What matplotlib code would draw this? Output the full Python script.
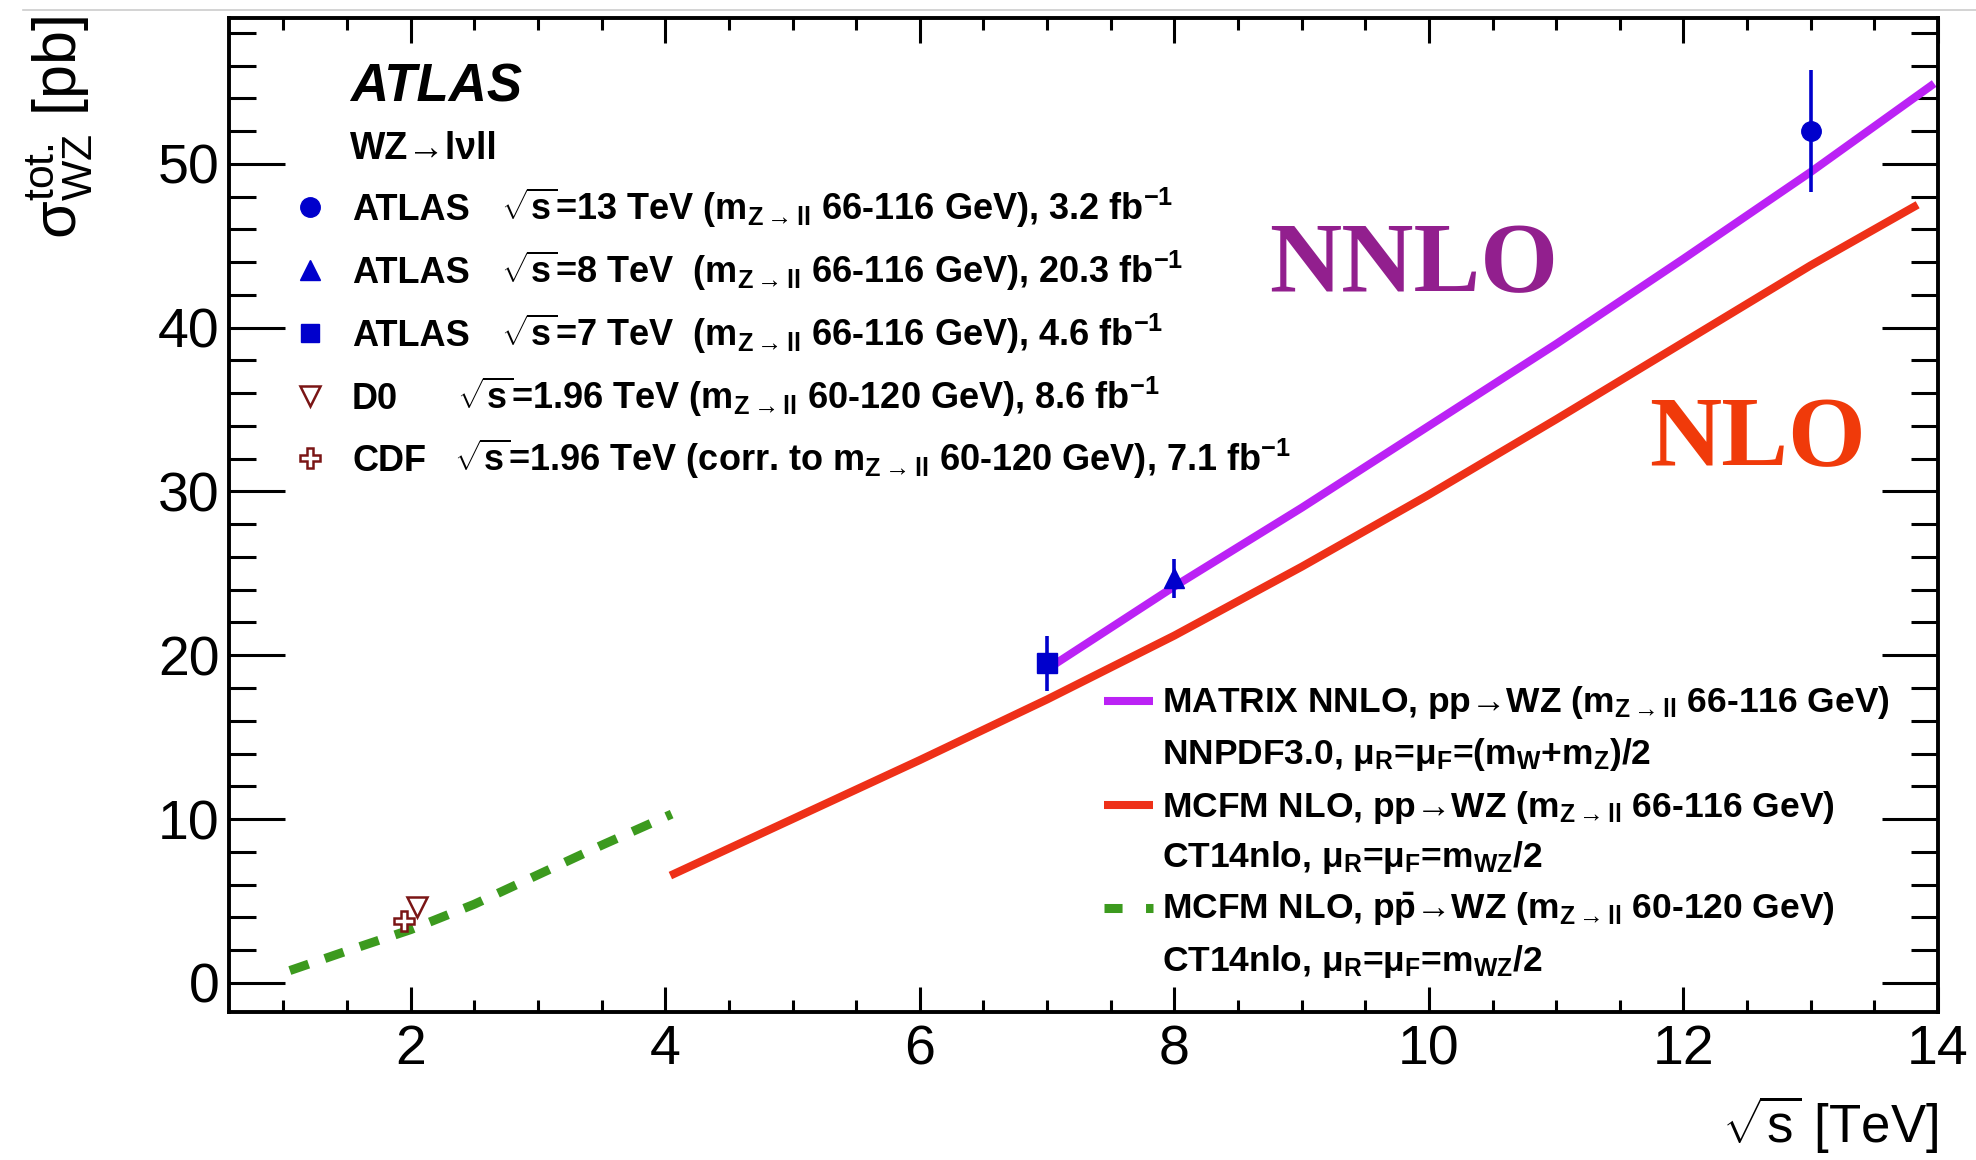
import matplotlib
matplotlib.use("Agg")
import matplotlib.pyplot as plt
from matplotlib.lines import Line2D
from matplotlib.ticker import MultipleLocator

plt.rcParams['font.family'] = ['Liberation Sans', 'DejaVu Sans']
plt.rcParams['mathtext.fontset'] = 'custom'
plt.rcParams['mathtext.rm'] = 'Liberation Sans'
plt.rcParams['mathtext.it'] = 'Liberation Sans:italic'
plt.rcParams['mathtext.bf'] = 'Liberation Sans:bold'
plt.rcParams['mathtext.sf'] = 'Liberation Sans'

# ---------------- data ----------------
atlas13_x, atlas13_y, atlas13_err = [13.0], [52.0], [3.7]
atlas8_x, atlas8_y, atlas8_err = [8.0], [24.7], [1.2]
atlas7_x, atlas7_y, atlas7_err = [7.0], [19.5], [1.7]
d0_x, d0_y = [2.05], [4.65]
cdf_x, cdf_y = [1.95], [3.8]

nnlo_x = [7.05, 8.0, 9.0, 10.0, 11.0, 12.0, 13.0, 13.97]
nnlo_y = [19.4, 24.2, 29.0, 34.0, 39.0, 44.2, 49.5, 54.9]

nlo_x = [4.04, 5.0, 6.0, 7.0, 8.0, 9.0, 10.0, 11.0, 12.0, 13.0, 13.84]
nlo_y = [6.55, 10.0, 13.6, 17.3, 21.2, 25.4, 29.8, 34.4, 39.1, 43.8, 47.5]

ppbar_x = [1.05, 1.5, 2.0, 2.5, 3.0, 3.5, 4.05]
ppbar_y = [0.75, 1.95, 3.25, 4.8, 6.6, 8.4, 10.3]

xticks = [2, 4, 6, 8, 10, 12, 14]
yticks = [0, 10, 20, 30, 40, 50]

# ---------------- style ----------------
BLUE = '#0000CC'
DRED = '#7A1515'
PURPLE = '#BB22F5'
RED = '#EE3018'
GREEN = '#3C9A1E'

W, H = 1976, 1160
fig = plt.figure(figsize=(W / 100, H / 100), dpi=100)


def fx(x):
    return x / W


def fy(y):
    return 1 - y / H


ax = fig.add_axes([fx(229), fy(1012), fx(1938) - fx(229), fy(18) - fy(1012)])
ax.set_xlim(0.572, 14.0)
ax.set_ylim(-1.78, 58.9)

ax.plot(ppbar_x, ppbar_y, color=GREEN, lw=6.5, dashes=(2.2, 1.9), dash_capstyle='butt')
ax.plot(nlo_x, nlo_y, color=RED, lw=5.8, solid_capstyle='butt', solid_joinstyle='round')
ax.plot(nnlo_x, nnlo_y, color=PURPLE, lw=5.8, solid_capstyle='butt', solid_joinstyle='round')

ax.errorbar(atlas7_x, atlas7_y, yerr=atlas7_err, fmt='s', color=BLUE, ms=14, elinewidth=2.6,
            capsize=0, zorder=5)
ax.errorbar(atlas8_x, atlas8_y, yerr=atlas8_err, fmt='^', color=BLUE, ms=14, elinewidth=2.6,
            capsize=0, zorder=5)
ax.errorbar(atlas13_x, atlas13_y, yerr=atlas13_err, fmt='o', color=BLUE, ms=14, elinewidth=2.6,
            capsize=0, zorder=5)
ax.plot(d0_x, d0_y, 'v', mfc='white', mec=DRED, mew=1.8, ms=15, zorder=5)
ax.plot(cdf_x, cdf_y, 'P', mfc='white', mec=DRED, mew=1.8, ms=15, zorder=5)

ax.set_xticks(xticks)
ax.set_yticks(yticks)
ax.xaxis.set_minor_locator(MultipleLocator(0.5))
ax.yaxis.set_minor_locator(MultipleLocator(2))
ax.tick_params(which='both', direction='in', top=True, right=True, width=2.2, color='black')
ax.tick_params(axis='x', which='major', length=18, labelsize=40, pad=9)
ax.tick_params(axis='x', which='minor', length=8.5)
ax.tick_params(axis='y', which='major', length=40, labelsize=40, pad=7)
ax.tick_params(axis='y', which='minor', length=19.5)
for s in ax.spines.values():
    s.set_linewidth(2.8)

# axis labels
fig.text(fx(60), fy(16), r'$\mathrm{σ}^{\mathrm{tot.}}_{\mathrm{WZ}}$ [pb]', rotation=90,
         ha='center', va='top', fontsize=44)
fig.text(fx(1938), fy(1143), r'$\sqrt{\mathrm{s}}$ [TeV]', ha='right', va='baseline', fontsize=38)

# screenshot border line at top
fig.add_artist(Line2D([fx(23), fx(1976)], [fy(10), fy(10)], color='#CCCCCC', lw=1.2))

# ATLAS label
fig.text(fx(350), fy(102), 'ATLAS', fontsize=38, fontweight='bold', fontstyle='italic', va='baseline')
fig.text(fx(350), fy(159), r'WZ→lνll', fontsize=27, fontweight='bold', va='baseline')

# upper legend
FS1 = 26
rows = [
    ('ATLAS', 501, r'$\sqrt{\mathbf{s}}$=13 TeV (m$_{\mathbf{Z\rightarrow ll}}$ 66-116 GeV), 3.2 fb$^{\mathbf{-1}}$'),
    ('ATLAS', 501, r'$\sqrt{\mathbf{s}}$=8 TeV  (m$_{\mathbf{Z\rightarrow ll}}$ 66-116 GeV), 20.3 fb$^{\mathbf{-1}}$'),
    ('ATLAS', 501, r'$\sqrt{\mathbf{s}}$=7 TeV  (m$_{\mathbf{Z\rightarrow ll}}$ 66-116 GeV), 4.6 fb$^{\mathbf{-1}}$'),
    ('D0', 457, r'$\sqrt{\mathbf{s}}$=1.96 TeV (m$_{\mathbf{Z\rightarrow ll}}$ 60-120 GeV), 8.6 fb$^{\mathbf{-1}}$'),
    ('CDF', 454, r'$\sqrt{\mathbf{s}}$=1.96 TeV (corr. to m$_{\mathbf{Z\rightarrow ll}}$ 60-120 GeV), 7.1 fb$^{\mathbf{-1}}$'),
]
baselines = [220, 283, 346, 409, 471]
mk = [dict(marker='o', color=BLUE, ms=14), dict(marker='^', color=BLUE, ms=14),
      dict(marker='s', color=BLUE, ms=13),
      dict(marker='v', mfc='white', mec=DRED, mew=1.8, ms=15, color=DRED),
      dict(marker='P', mfc='white', mec=DRED, mew=1.8, ms=15, color=DRED)]
for (name, xr, rest), b, m in zip(rows, baselines, mk):
    fig.text(fx(352), fy(b), name, fontsize=FS1, fontweight='bold', va='baseline')
    fig.text(fx(xr), fy(b), rest, fontsize=FS1, fontweight='bold', va='baseline')
    fig.add_artist(Line2D([fx(310)], [fy(b - 13)], linestyle='none', **m))

# lower legend
FS2 = 25.5
lower = [
    (712, r'MATRIX NNLO, pp→WZ (m$_{\mathbf{Z\rightarrow ll}}$ 66-116 GeV)'),
    (764, r'NNPDF3.0, μ$_{\mathbf{R}}$=μ$_{\mathbf{F}}$=(m$_{\mathbf{W}}$+m$_{\mathbf{Z}}$)/2'),
    (817, r'MCFM NLO, pp→WZ (m$_{\mathbf{Z\rightarrow ll}}$ 66-116 GeV)'),
    (867, r'CT14nlo, μ$_{\mathbf{R}}$=μ$_{\mathbf{F}}$=m$_{\mathbf{WZ}}$/2'),
    (919, r'MCFM NLO, p$\mathbf{\bar{p}}$→WZ (m$_{\mathbf{Z\rightarrow ll}}$ 60-120 GeV)'),
    (971, r'CT14nlo, μ$_{\mathbf{R}}$=μ$_{\mathbf{F}}$=m$_{\mathbf{WZ}}$/2'),
]
for b, s in lower:
    fig.text(fx(1162), fy(b), s, fontsize=FS2, fontweight='bold', va='baseline')
fig.add_artist(Line2D([fx(1104), fx(1153)], [fy(701), fy(701)], color=PURPLE, lw=5.8,
                      solid_capstyle='butt'))
fig.add_artist(Line2D([fx(1104), fx(1153)], [fy(805), fy(805)], color=RED, lw=5.8,
                      solid_capstyle='butt'))
fig.add_artist(Line2D([fx(1104), fx(1153)], [fy(908), fy(908)], color=GREEN, lw=6.5,
                      dashes=(2.0, 2.6), dash_capstyle='butt'))

# big labels
fig.text(fx(1414), fy(267), 'NNLO', fontsize=72, fontweight='bold', family='Liberation Serif',
         color='#921F8E', ha='center', va='center')
fig.text(fx(1757), fy(441), 'NLO', fontsize=72, fontweight='bold', family='Liberation Serif',
         color='#F03A0A', ha='center', va='center')

fig.savefig('out.png', dpi=100)
